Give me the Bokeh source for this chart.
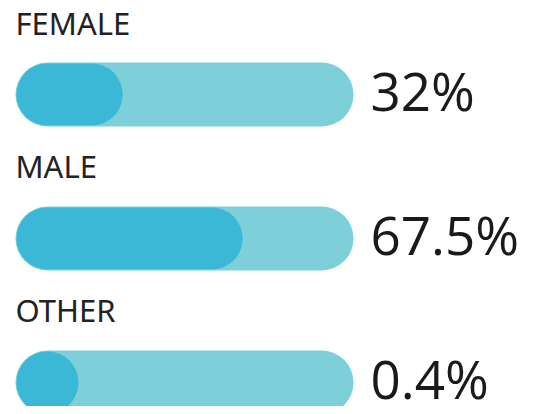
from bokeh.plotting import figure
from bokeh.models import Range1d, ColumnDataSource
from bokeh.core.properties import value
from bokeh.embed import file_html
from bokeh.resources import INLINE

categories = ["FEMALE", "MALE", "OTHER"]
percents = [32.0, 67.5, 0.4]
value_labels = ["32%", "67.5%", "0.4%"]

W, H = 545, 406
p = figure(width=W, height=H, output_backend="svg", toolbar_location=None,
           x_range=Range1d(-4.44, 156.8), y_range=Range1d(-2.167, 0.653),
           min_border=0, min_border_left=0, min_border_right=0,
           min_border_top=0, min_border_bottom=0)
p.axis.visible = False
p.grid.visible = False
p.outline_line_color = None
p.background_fill_color = "white"
p.border_fill_color = "white"

px_per_x = 3.38
bar_px = 64
r = (bar_px / 2) / px_per_x

ys = [-i for i in range(len(categories))]
track = ColumnDataSource(dict(x0=[r] * 3, x1=[100 - r] * 3, y=ys))
p.segment(x0="x0", y0="y", x1="x1", y1="y", source=track,
          line_width=bar_px, line_cap="round", line_color="#7dcfda")

fill_x1 = [max(v - r, r) for v in percents]
fill = ColumnDataSource(dict(x0=[r] * 3, x1=fill_x1, y=ys))
p.segment(x0="x0", y0="y", x1="x1", y1="y", source=fill,
          line_width=bar_px - 2, line_cap="round", line_color="#3cb8d7")

lab = ColumnDataSource(dict(x=[0] * 3, y=[y + 0.5 for y in ys], t=categories))
p.text(x="x", y="y", text="t", source=lab, text_font=value("Noto Sans"),
       text_font_size="31px", text_color="#222222", text_baseline="middle",
       text_align="left")

vl = ColumnDataSource(dict(x=[105] * 3, y=[y + 0.03 for y in ys], t=value_labels))
p.text(x="x", y="y", text="t", source=vl, text_font=value("Open Sans"),
       text_font_size="53px", text_color="#1a1a1a", text_baseline="middle",
       text_align="left")

open("out.html", "w").write(file_html(p, INLINE))
